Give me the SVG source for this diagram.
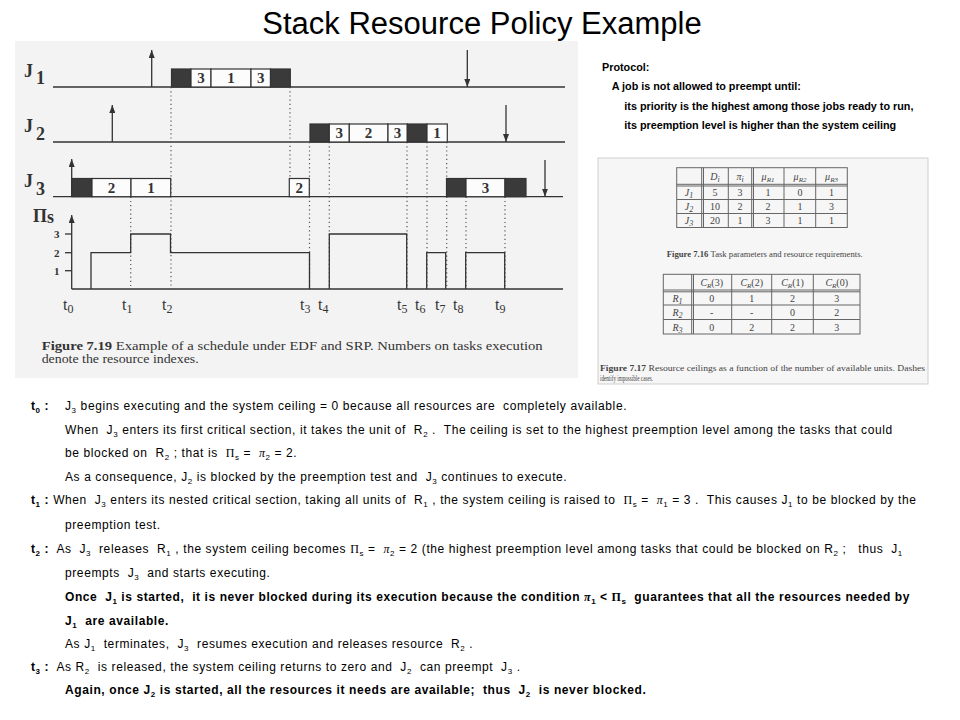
<svg xmlns="http://www.w3.org/2000/svg" width="960" height="720" viewBox="0 0 960 720">
<defs>
<style>
.ax{stroke:#333;stroke-width:1.3;fill:none}
.dot{stroke:#555;stroke-width:1.2;stroke-dasharray:1.2 3;fill:none}
.box{fill:#fcfcfc;stroke:#333;stroke-width:1.2}
.blk{fill:#3a3a3a;stroke:#333;stroke-width:1.2}
.num{font-family:"Liberation Serif",serif;font-size:15px;font-weight:bold;fill:#333;text-anchor:middle}
.jl{font-family:"Liberation Serif",serif;font-weight:bold;font-size:18px;fill:#333}
.tk{font-family:"Liberation Serif",serif;font-weight:bold;font-size:11px;fill:#333}
.tl{font-family:"Liberation Serif",serif;font-size:16px;fill:#333}
.cap{font-family:"Liberation Serif",serif;font-size:12px;fill:#333}
.tb{stroke:#666;stroke-width:1;fill:none}
.tt{font-family:"Liberation Serif",serif;font-size:10px;fill:#444;text-anchor:middle}
.tc{font-family:"Liberation Serif",serif;font-size:8px;fill:#444}
.bt{font-family:"Liberation Sans",Arial,sans-serif;font-size:12px;letter-spacing:0.6px;fill:#000}
.pr{font-family:"Liberation Sans",Arial,sans-serif;font-size:10.8px;font-weight:bold;fill:#000}
.s{font-size:8px}
.gk{font-family:"Liberation Serif",serif}
</style>
<marker id="ah" viewBox="0 0 8 6" refX="8" refY="3" markerWidth="8" markerHeight="6" orient="auto" markerUnits="userSpaceOnUse"><path d="M0,0 L8,3 L0,6 z" fill="#333"/></marker>
</defs>
<rect width="960" height="720" fill="#fff"/>
<text id="title" x="482" y="34" text-anchor="middle" font-family="'Liberation Sans',Arial,sans-serif" font-size="31" fill="#000">Stack Resource Policy Example</text>

<g id="schedule">
<rect x="15" y="41" width="563" height="337" fill="#f3f3f3"/>
<g id="labels">
<text class="jl" x="24" y="77">J</text><text class="jl" x="36" y="84" font-size="14">1</text>
<text class="jl" x="24" y="132">J</text><text class="jl" x="36" y="140" font-size="14">2</text>
<text class="jl" x="24" y="187">J</text><text class="jl" x="36" y="195" font-size="14">3</text>
<text class="jl" x="33" y="222" font-size="15">Π</text><text class="jl" x="47" y="223" font-size="10">s</text>
<text class="tk" x="54" y="238">3</text>
<text class="tk" x="54" y="256.5">2</text>
<text class="tk" x="54" y="274.5">1</text>
</g>
<g id="axes">
<line class="ax" x1="53" y1="87" x2="565" y2="87"/>
<line class="ax" x1="53" y1="142" x2="565" y2="142"/>
<line class="ax" x1="53" y1="196.7" x2="563" y2="196.7"/>
<line class="ax" x1="71.7" y1="289" x2="563" y2="289"/>
<line class="ax" x1="65" y1="234" x2="71.7" y2="234"/>
<line class="ax" x1="65" y1="252.7" x2="71.7" y2="252.7"/>
<line class="ax" x1="65" y1="270.7" x2="71.7" y2="270.7"/>
</g>
<g id="connectors">
<line class="dot" x1="130.7" y1="196.7" x2="130.7" y2="289"/>
<line class="dot" x1="171" y1="87" x2="171" y2="289"/>
<line class="dot" x1="290" y1="87" x2="290" y2="178.5"/>
<line class="dot" x1="309.5" y1="142" x2="309.5" y2="289"/>
<line class="dot" x1="329.3" y1="142" x2="329.3" y2="289"/>
<line class="dot" x1="407" y1="142" x2="407" y2="289"/>
<line class="dot" x1="427" y1="142" x2="427" y2="289"/>
<line class="dot" x1="446.7" y1="142" x2="446.7" y2="178.5"/>
<line class="dot" x1="446.7" y1="196.7" x2="446.7" y2="289"/>
<line class="dot" x1="466" y1="196.7" x2="466" y2="289"/>
<line class="dot" x1="505" y1="196.7" x2="505" y2="289"/>
<line class="ax" x1="151.7" y1="87" x2="151.7" y2="50" marker-end="url(#ah)"/>
<line class="ax" x1="467.3" y1="50" x2="467.3" y2="87" marker-end="url(#ah)"/>
<line class="ax" x1="112.3" y1="142" x2="112.3" y2="105" marker-end="url(#ah)"/>
<line class="ax" x1="506" y1="105" x2="506" y2="142" marker-end="url(#ah)"/>
<line class="ax" x1="71.7" y1="196.7" x2="71.7" y2="159" marker-end="url(#ah)"/>
<line class="ax" x1="545" y1="160" x2="545" y2="196.7" marker-end="url(#ah)"/>
<line class="ax" x1="71.7" y1="289" x2="71.7" y2="215" marker-end="url(#ah)"/>
</g>
<g id="J1">
<rect class="blk" x="171.5" y="69" width="19.5" height="18"/>
<rect class="box" x="191" y="69" width="20" height="18"/>
<rect class="box" x="211" y="69" width="40" height="18"/>
<rect class="box" x="251" y="69" width="19.5" height="18"/>
<rect class="blk" x="270.5" y="69" width="19.8" height="18"/>
<text class="num" x="201" y="83">3</text>
<text class="num" x="231" y="83">1</text>
<text class="num" x="260.7" y="83">3</text>
</g>
<g id="J2">
<rect class="blk" x="310" y="124" width="19.3" height="18"/>
<rect class="box" x="329.3" y="124" width="20" height="18"/>
<rect class="box" x="349.3" y="124" width="38.7" height="18"/>
<rect class="box" x="388" y="124" width="19.3" height="18"/>
<rect class="blk" x="407.3" y="124" width="19.7" height="18"/>
<rect class="box" x="427" y="124" width="20.3" height="18"/>
<text class="num" x="339.3" y="138">3</text>
<text class="num" x="368.6" y="138">2</text>
<text class="num" x="397.6" y="138">3</text>
<text class="num" x="437" y="138">1</text>
</g>
<g id="J3">
<rect class="blk" x="71.7" y="178.5" width="20.3" height="18.2"/>
<rect class="box" x="92" y="178.5" width="39" height="18.2"/>
<rect class="box" x="131" y="178.5" width="39.7" height="18.2"/>
<rect class="box" x="289.3" y="178.5" width="20" height="18.2"/>
<rect class="blk" x="446.5" y="178.5" width="19.5" height="18.2"/>
<rect class="box" x="466" y="178.5" width="39" height="18.2"/>
<rect class="blk" x="505" y="178.5" width="21" height="18.2"/>
<text class="num" x="111.5" y="192.5">2</text>
<text class="num" x="151" y="192.5">1</text>
<text class="num" x="299.3" y="192.5">2</text>
<text class="num" x="485.5" y="192.5">3</text>
</g>
<g id="ceiling">
<path class="ax" d="M91,289 V252.7 H130.7 V234 H170.5 V252.7 H309.5 V289 M329.3,289 V234 H406.7 V289 M426.7,289 V252.7 H445.7 V289 M465.7,289 V252.7 H504.7 V289"/>
</g>
<g id="times">
<text class="tl" x="63" y="310">t<tspan dy="3" font-size="12">0</tspan></text>
<text class="tl" x="122" y="310">t<tspan dy="3" font-size="12">1</tspan></text>
<text class="tl" x="162" y="310">t<tspan dy="3" font-size="12">2</tspan></text>
<text class="tl" x="300" y="310">t<tspan dy="3" font-size="12">3</tspan></text>
<text class="tl" x="318" y="310">t<tspan dy="3" font-size="12">4</tspan></text>
<text class="tl" x="397" y="310">t<tspan dy="3" font-size="12">5</tspan></text>
<text class="tl" x="415" y="310">t<tspan dy="3" font-size="12">6</tspan></text>
<text class="tl" x="435" y="310">t<tspan dy="3" font-size="12">7</tspan></text>
<text class="tl" x="453" y="310">t<tspan dy="3" font-size="12">8</tspan></text>
<text class="tl" x="495" y="310">t<tspan dy="3" font-size="12">9</tspan></text>
</g>
<text class="cap" x="41.7" y="350" textLength="501" lengthAdjust="spacingAndGlyphs"><tspan font-weight="bold">Figure 7.19</tspan>   Example of a schedule under EDF and SRP. Numbers on tasks execution</text>
<text class="cap" x="41.7" y="363" textLength="157" lengthAdjust="spacingAndGlyphs">denote the resource indexes.</text>
</g>

<g id="protocol">
<text class="pr" x="602" y="71">Protocol:</text>
<text class="pr" x="611.7" y="90">A job is not allowed to preempt until:</text>
<text class="pr" x="624.3" y="110">its priority is the highest among those jobs ready to run,</text>
<text class="pr" x="624.3" y="129">its preemption level is higher than the system ceiling</text>
</g>

<g id="tables">
<rect x="598" y="158" width="330" height="226" fill="#f6f6f6" stroke="#cfcfcf" stroke-width="1"/>
<g id="table1">
<rect class="tb" x="676.7" y="167.7" width="170.6" height="59.8"/>
<path class="tb" d="M701.7,167.7 V227.5 M703.5,167.7 V227.5 M728.3,167.7 V227.5 M751.7,167.7 V227.5 M753.5,167.7 V227.5 M784,167.7 V227.5 M815.7,167.7 V227.5 M676.7,184.3 H847.3 M676.7,186 H847.3 M676.7,199.5 H847.3 M676.7,213.5 H847.3"/>
<text class="tt" x="715" y="180" font-style="italic">D<tspan class="s" dy="2">i</tspan></text>
<text class="tt" x="740" y="180" font-style="italic">π<tspan class="s" dy="2">i</tspan></text>
<text class="tt" x="768" y="180" font-style="italic">μ<tspan font-size="7" dy="2">R1</tspan></text>
<text class="tt" x="800" y="180" font-style="italic">μ<tspan font-size="7" dy="2">R2</tspan></text>
<text class="tt" x="831.5" y="180" font-style="italic">μ<tspan font-size="7" dy="2">R3</tspan></text>
<text class="tt" x="689" y="196" font-style="italic">J<tspan class="s" dy="2">1</tspan></text>
<text class="tt" x="689" y="210" font-style="italic">J<tspan class="s" dy="2">2</tspan></text>
<text class="tt" x="689" y="224" font-style="italic">J<tspan class="s" dy="2">3</tspan></text>
<text class="tt" x="715" y="196">5</text><text class="tt" x="740" y="196">3</text><text class="tt" x="768" y="196">1</text><text class="tt" x="800" y="196">0</text><text class="tt" x="831.5" y="196">1</text>
<text class="tt" x="715" y="210">10</text><text class="tt" x="740" y="210">2</text><text class="tt" x="768" y="210">2</text><text class="tt" x="800" y="210">1</text><text class="tt" x="831.5" y="210">3</text>
<text class="tt" x="715" y="224">20</text><text class="tt" x="740" y="224">1</text><text class="tt" x="768" y="224">3</text><text class="tt" x="800" y="224">1</text><text class="tt" x="831.5" y="224">1</text>
<text class="tc" x="666.7" y="256.5" textLength="196" lengthAdjust="spacingAndGlyphs"><tspan font-weight="bold">Figure 7.16</tspan>   Task parameters and resource requirements.</text>
</g>
<g id="table2">
<rect class="tb" x="663.3" y="274.3" width="196.7" height="59.7"/>
<path class="tb" d="M691.7,274.3 V334 M693.5,274.3 V334 M731.7,274.3 V334 M771.7,274.3 V334 M813.3,274.3 V334 M663.3,290 H860 M663.3,291.8 H860 M663.3,305 H860 M663.3,319.5 H860"/>
<text class="tt" x="711.7" y="286" font-style="italic">C<tspan font-size="7" dy="2">R</tspan><tspan dy="-2" font-style="normal">(3)</tspan></text>
<text class="tt" x="751.7" y="286" font-style="italic">C<tspan font-size="7" dy="2">R</tspan><tspan dy="-2" font-style="normal">(2)</tspan></text>
<text class="tt" x="792.5" y="286" font-style="italic">C<tspan font-size="7" dy="2">R</tspan><tspan dy="-2" font-style="normal">(1)</tspan></text>
<text class="tt" x="836.7" y="286" font-style="italic">C<tspan font-size="7" dy="2">R</tspan><tspan dy="-2" font-style="normal">(0)</tspan></text>
<text class="tt" x="677.5" y="302" font-style="italic">R<tspan class="s" dy="2">1</tspan></text>
<text class="tt" x="677.5" y="316" font-style="italic">R<tspan class="s" dy="2">2</tspan></text>
<text class="tt" x="677.5" y="330.5" font-style="italic">R<tspan class="s" dy="2">3</tspan></text>
<text class="tt" x="711.7" y="302">0</text><text class="tt" x="751.7" y="302">1</text><text class="tt" x="792.5" y="302">2</text><text class="tt" x="836.7" y="302">3</text>
<text class="tt" x="711.7" y="316">-</text><text class="tt" x="751.7" y="316">-</text><text class="tt" x="792.5" y="316">0</text><text class="tt" x="836.7" y="316">2</text>
<text class="tt" x="711.7" y="330.5">0</text><text class="tt" x="751.7" y="330.5">2</text><text class="tt" x="792.5" y="330.5">2</text><text class="tt" x="836.7" y="330.5">3</text>
<text class="tc" x="600" y="371" textLength="325" lengthAdjust="spacingAndGlyphs"><tspan font-weight="bold">Figure 7.17</tspan>   Resource ceilings as a function of the number of available units.  Dashes</text>
<text class="tc" x="600" y="381" textLength="53" lengthAdjust="spacingAndGlyphs">identify impossible cases.</text>
</g>
</g>

<g id="explanation" class="bt">
<text xml:space="preserve" x="31" y="410"><tspan font-weight="bold">t</tspan><tspan class="s" dy="3" font-weight="bold">0</tspan><tspan dy="-3" font-weight="bold"> :</tspan><tspan x="65">J</tspan><tspan class="s" dy="3">3</tspan><tspan dy="-3"> begins executing and the system ceiling = 0 because all resources are  completely available.</tspan></text>
<text xml:space="preserve" x="65" y="434">When  J<tspan class="s" dy="3">3</tspan><tspan dy="-3"> enters its first critical section, it takes the unit of  R</tspan><tspan class="s" dy="3">2</tspan><tspan dy="-3"> .  The ceiling is set to the highest preemption level among the tasks that could</tspan></text>
<text xml:space="preserve" x="65" y="457">be blocked on  R<tspan class="s" dy="3">2</tspan><tspan dy="-3"> ; that is  </tspan><tspan class="gk">Π</tspan><tspan class="s" dy="3">s</tspan><tspan dy="-3"> =  </tspan><tspan class="gk" font-style="italic">π</tspan><tspan class="s" dy="3">2</tspan><tspan dy="-3"> = 2.</tspan></text>
<text xml:space="preserve" x="65" y="481">As a consequence, J<tspan class="s" dy="3">2</tspan><tspan dy="-3"> is blocked by the preemption test and  J</tspan><tspan class="s" dy="3">3</tspan><tspan dy="-3"> continues to execute.</tspan></text>
<text xml:space="preserve" x="31" y="504"><tspan font-weight="bold">t</tspan><tspan class="s" dy="3" font-weight="bold">1</tspan><tspan dy="-3" font-weight="bold"> :</tspan><tspan> When  J</tspan><tspan class="s" dy="3">3</tspan><tspan dy="-3"> enters its nested critical section, taking all units of  R</tspan><tspan class="s" dy="3">1</tspan><tspan dy="-3"> , the system ceiling is raised to  </tspan><tspan class="gk">Π</tspan><tspan class="s" dy="3">s</tspan><tspan dy="-3"> =  </tspan><tspan class="gk" font-style="italic">π</tspan><tspan class="s" dy="3">1</tspan><tspan dy="-3"> = 3 .  This causes J</tspan><tspan class="s" dy="3">1</tspan><tspan dy="-3"> to be blocked by the</tspan></text>
<text xml:space="preserve" x="65" y="529">preemption test.</text>
<text xml:space="preserve" x="31" y="553"><tspan font-weight="bold">t</tspan><tspan class="s" dy="3" font-weight="bold">2</tspan><tspan dy="-3" font-weight="bold"> :</tspan><tspan>  As  J</tspan><tspan class="s" dy="3">3</tspan><tspan dy="-3">  releases  R</tspan><tspan class="s" dy="3">1</tspan><tspan dy="-3"> , the system ceiling becomes </tspan><tspan class="gk">Π</tspan><tspan class="s" dy="3">s</tspan><tspan dy="-3"> =  </tspan><tspan class="gk" font-style="italic">π</tspan><tspan class="s" dy="3">2</tspan><tspan dy="-3"> = 2 (the highest preemption level among tasks that could be blocked on R</tspan><tspan class="s" dy="3">2</tspan><tspan dy="-3"> ;   thus  J</tspan><tspan class="s" dy="3">1</tspan></text>
<text xml:space="preserve" x="65" y="577">preempts  J<tspan class="s" dy="3">3</tspan><tspan dy="-3">  and starts executing.</tspan></text>
<text xml:space="preserve" x="65" y="601" font-weight="bold" textLength="845" lengthAdjust="spacing">Once  J<tspan class="s" dy="3">1</tspan><tspan dy="-3"> is started,  it is never blocked during its execution because the condition </tspan><tspan class="gk" font-style="italic">π</tspan><tspan class="s" dy="3">1</tspan><tspan dy="-3"> &lt; </tspan><tspan class="gk">Π</tspan><tspan class="s" dy="3">s</tspan><tspan dy="-3">  guarantees that all the resources needed by</tspan></text>
<text xml:space="preserve" x="65" y="625" font-weight="bold">J<tspan class="s" dy="3">1</tspan><tspan dy="-3">  are available.</tspan></text>
<text xml:space="preserve" x="65" y="648">As J<tspan class="s" dy="3">1</tspan><tspan dy="-3">  terminates,  J</tspan><tspan class="s" dy="3">3</tspan><tspan dy="-3">  resumes execution and releases resource  R</tspan><tspan class="s" dy="3">2</tspan><tspan dy="-3"> .</tspan></text>
<text xml:space="preserve" x="31" y="671"><tspan font-weight="bold">t</tspan><tspan class="s" dy="3" font-weight="bold">3</tspan><tspan dy="-3" font-weight="bold"> :</tspan><tspan>  As R</tspan><tspan class="s" dy="3">2</tspan><tspan dy="-3">  is released, the system ceiling returns to zero and  J</tspan><tspan class="s" dy="3">2</tspan><tspan dy="-3">  can preempt  J</tspan><tspan class="s" dy="3">3</tspan><tspan dy="-3"> .</tspan></text>
<text xml:space="preserve" x="65" y="694" font-weight="bold">Again, once J<tspan class="s" dy="3">2</tspan><tspan dy="-3"> is started, all the resources it needs are available;  thus  J</tspan><tspan class="s" dy="3">2</tspan><tspan dy="-3">  is never blocked.</tspan></text>
</g>
</svg>
